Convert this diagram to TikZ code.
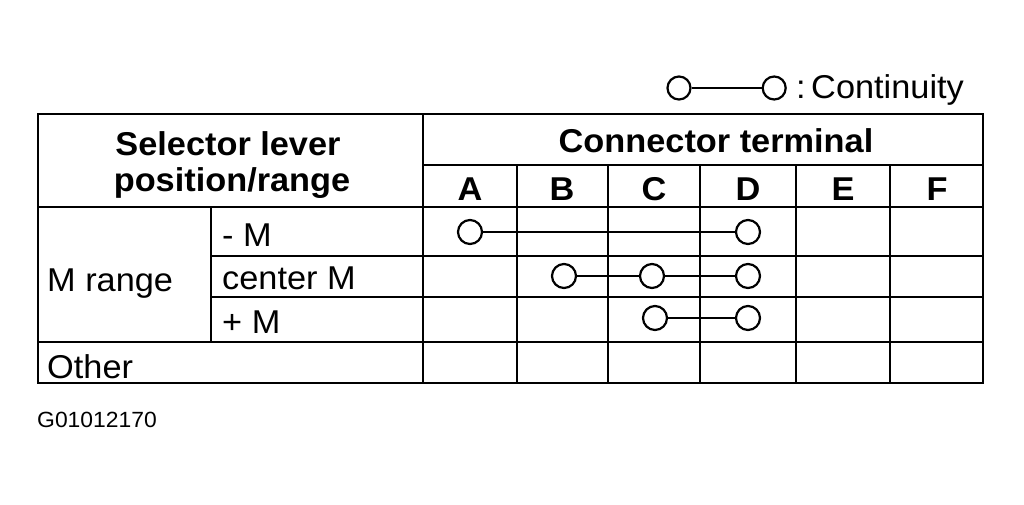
\documentclass[tikz,border=0pt]{standalone}
\usepackage{fontspec}
\setmainfont{Liberation Sans}[FakeStretch=1.04]
\usetikzlibrary{positioning}
\newcommand{\tabfont}{\fontsize{33}{38}\selectfont}
\newcommand{\idfont}{\fontsize{22}{25}\selectfont}

\begin{document}
\begin{tikzpicture}[x=1pt,y=-1pt,
  contact/.style={shape=circle,draw,line width=2.2pt,minimum size=24pt,inner sep=0pt,fill=white},
  rowlbl/.style={anchor=base west,font=\tabfont,inner sep=0pt},
  colhead/.style={anchor=base,font=\tabfont\bfseries,inner sep=0pt},
  grid/.style={line width=2pt},
  link/.style={line width=1.6pt}]
  \useasboundingbox (0,0) rectangle (1024,504);
  % table
  \draw[line width=2.8pt] (38,114) rectangle (983,383);
  \draw[grid] (38,207) -- (983,207) (423,165) -- (983,165) (211,256) -- (983,256)
              (211,297) -- (983,297) (38,342) -- (983,342);
  \draw[grid] (423,114) -- (423,383) (211,207) -- (211,342);
  \foreach \x in {517,608,700,796,890} \draw[grid] (\x,165) -- (\x,383);

  \node[colhead] (sel)  at (228,155) {Selector lever};
  \node[colhead] (pos)  at (232,191) {position/range};
  \node[colhead] (term) at (716,152) {Connector terminal};
  \foreach \c/\x in {A/470,B/562,C/654,D/748,E/843,F/937}
    \node[colhead] (col\c) at (\x,200) {\c};

  \node[rowlbl] (minus)  at (222,246) {- M};
  \node[rowlbl] (center) at (222,289) {center M};
  \node[rowlbl] (plus)   at (222,333) {+ M};
  \node[rowlbl] (mrange) at (47,291)  {M range};
  \node[rowlbl] (other)  at (47,378)  {Other};
  \node[anchor=base west,font=\idfont,inner sep=0pt] (figid) at (37,427) {G01012170};

  % continuity
  \node[contact] (A1) at (470,232) {};
  \node[contact] (D1) at (748,232) {};
  \node[contact] (B2) at (564,276) {};
  \node[contact] (C2) at (652,276) {};
  \node[contact] (D2) at (748,276) {};
  \node[contact] (C3) at (655,318) {};
  \node[contact] (D3) at (748,318) {};
  \path[link] (A1) edge (D1) (B2) edge (C2) (C2) edge (D2) (C3) edge (D3);

  % legend
  \node[contact,minimum size=23pt] (L1) at (679,88) {};
  \node[contact,minimum size=23pt] (L2) [right=70pt of L1] {};
  \path[link] (L1) edge (L2);
  \node[anchor=base west,font=\tabfont,inner sep=0pt] (legend) at (796,98) {:\,Continuity};
\end{tikzpicture}
\end{document}
